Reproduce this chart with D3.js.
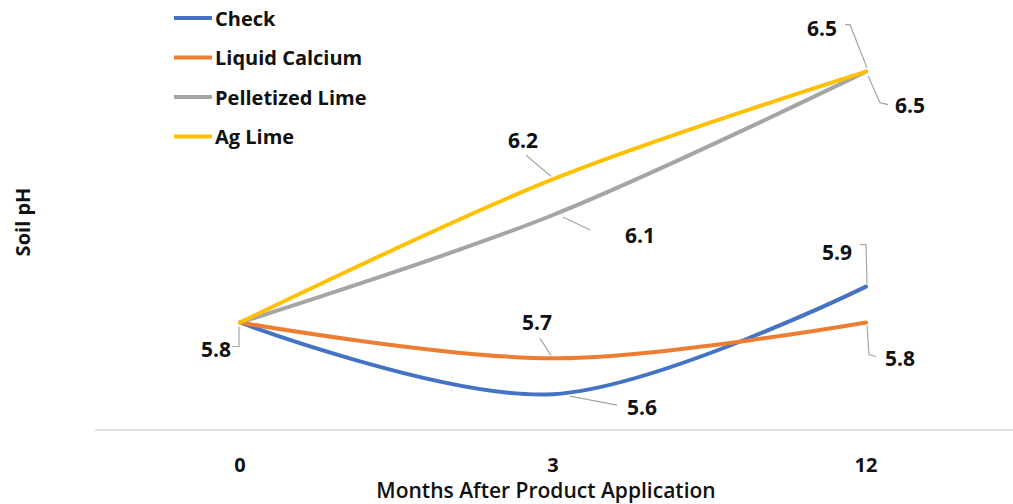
<!DOCTYPE html>
<html lang="en">
<head>
    <meta charset="UTF-8">
    <title>Soil pH</title>
    <script src="https://d3js.org/d3.v7.min.js"></script>
    <style>
        body {
            margin: 0;
            padding: 0;
            background: #fff;
            font-family: "Open Sans", Arial, sans-serif;
        }
        svg { display: block; }
        .series { fill: none; stroke-width: 4px; stroke-linecap: round; }
        .leader { fill: none; stroke: #a6a6a6; stroke-width: 1.2px; }
        .dlabel { font-size: 21px; font-weight: bold; fill: #111; }
        .tick-label { font-size: 20px; font-weight: bold; fill: #111; }
    </style>
</head>
<body>
    <svg id="chart" width="1013" height="504"></svg>

    <script>
        const months = ["0", "3", "12"];
        const seriesNames = ["Check", "Liquid Calcium", "Pelletized Lime", "Ag Lime"];
        const checkValues = [5.8, 5.6, 5.9];
        const liquidCalciumValues = [5.8, 5.7, 5.8];
        const pelletizedLimeValues = [5.8, 6.1, 6.5];
        const agLimeValues = [5.8, 6.2, 6.5];
        const colors = ["#4472C4", "#ED7D31", "#A5A5A5", "#FFC000"];

        const series = [checkValues, liquidCalciumValues, pelletizedLimeValues, agLimeValues]
            .map((vals, i) => ({ name: seriesNames[i], color: colors[i], values: vals }));

        // label placement (offsets from the point), keyed "series-index"
        const labelLayout = {
            "0-0": { dx: -24, dy: 26, leader: [[-1, 4], [-1, 24], [-8, 24]] },
            "1-1": { dx: -16, dy: -36, leader: [[-13, -20], [-2, -3]] },
            "0-1": { dx: 89, dy: 13, leader: [[17, 2], [64, 11]] },
            "3-1": { dx: -30, dy: -39, leader: [[-27, -24], [-2, -3]] },
            "2-1": { dx: 87, dy: 20, leader: [[10, 2], [37, 15]] },
            "3-2": { dx: -44, dy: -44, leader: [[-21, -47], [-16, -47], [1, -4]] },
            "2-2": { dx: 44, dy: 33, leader: [[2, 4], [14, 31], [22, 33]] },
            "0-2": { dx: -29, dy: -35, leader: [[-6, -42], [0, -42], [1, -3]] },
            "1-2": { dx: 34, dy: 35, leader: [[1, 3], [3, 32], [10, 34]] }
        };

        const svg = d3.select("#chart");

        const x = d3.scalePoint()
            .domain(months)
            .range([240, 866]);

        const y = d3.scaleLinear()
            .domain([5.5, 6.7])
            .range([430, 0]);

        // category axis baseline
        svg.append("line")
            .attr("x1", 95).attr("x2", 1013)
            .attr("y1", y(5.5)).attr("y2", y(5.5))
            .attr("stroke", "#d9d9d9")
            .attr("stroke-width", 1.5);

        svg.selectAll(".tick-label")
            .data(months)
            .enter()
            .append("text")
            .attr("class", "tick-label")
            .attr("x", d => x(d))
            .attr("y", 472)
            .attr("text-anchor", "middle")
            .text(d => d);

        svg.append("text")
            .attr("x", 546)
            .attr("y", 498)
            .attr("text-anchor", "middle")
            .style("font-size", "21px")
            .style("font-weight", "600")
            .style("fill", "#111")
            .text("Months After Product Application");

        svg.append("text")
            .attr("transform", "translate(22,222) rotate(-90)")
            .attr("text-anchor", "middle")
            .attr("dominant-baseline", "central")
            .style("font-size", "20px")
            .style("font-weight", "bold")
            .style("fill", "#111")
            .text("Soil pH");

        const line = d3.line()
            .x((d, i) => x(months[i]))
            .y(d => y(d))
            .curve(d3.curveCardinal.tension(0));

        svg.selectAll(".series")
            .data(series)
            .enter()
            .append("path")
            .attr("class", "series")
            .attr("stroke", d => d.color)
            .attr("d", d => line(d.values));

        // data labels with leader lines
        series.forEach((s, si) => {
            s.values.forEach((v, i) => {
                const lay = labelLayout[si + "-" + i];
                if (!lay) return;
                const px = x(months[i]);
                const py = y(v);
                svg.append("path")
                    .attr("class", "leader")
                    .attr("d", d3.line()(lay.leader.map(p => [px + p[0], py + p[1]])));
                svg.append("text")
                    .attr("class", "dlabel")
                    .attr("x", px + lay.dx)
                    .attr("y", py + lay.dy)
                    .attr("text-anchor", "middle")
                    .attr("dominant-baseline", "central")
                    .text(v.toFixed(1));
            });
        });

        // legend
        const legend = svg.append("g");
        series.forEach((s, i) => {
            const ly = 18 + i * 39.5;
            legend.append("line")
                .attr("x1", 174).attr("x2", 212)
                .attr("y1", ly).attr("y2", ly)
                .attr("stroke", s.color)
                .attr("stroke-width", 4);
            legend.append("text")
                .attr("x", 215)
                .attr("y", ly)
                .attr("dominant-baseline", "central")
                .style("font-size", "20px")
                .style("font-weight", "bold")
                .style("fill", "#111")
                .text(s.name);
        });
    </script>
</body>
</html>
